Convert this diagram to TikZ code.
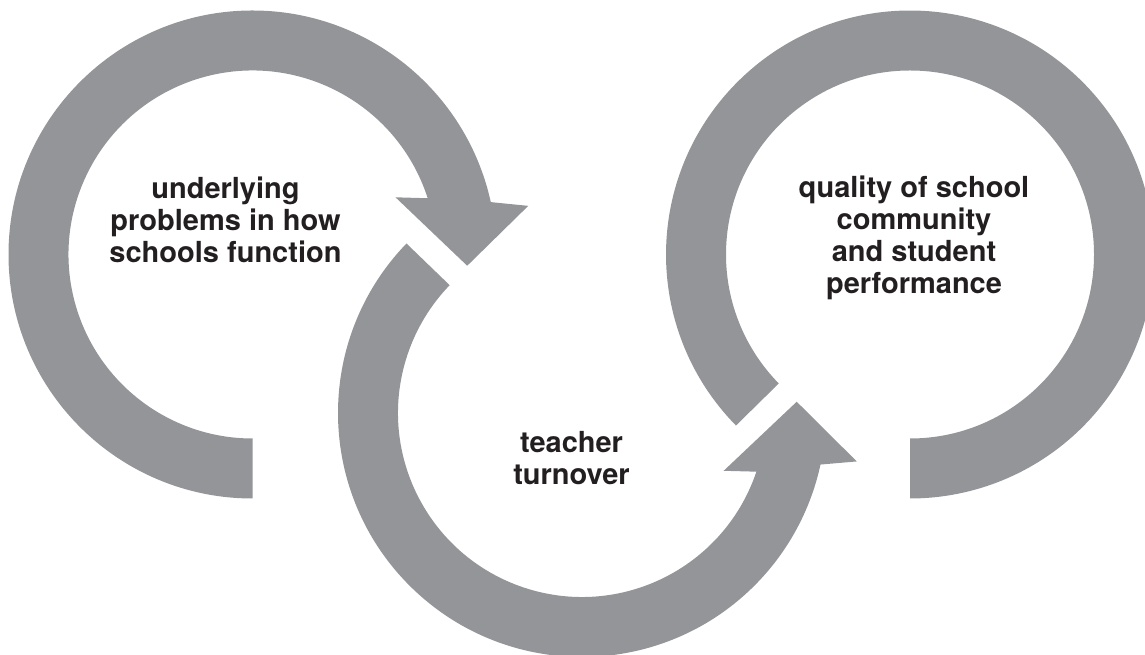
\documentclass[tikz,border=0pt]{standalone}
\usepackage{fontspec}
\setmainfont{TeX Gyre Heros}
\definecolor{loopgray}{RGB}{147,149,152}
\definecolor{inkblack}{RGB}{35,31,32}

\begin{document}
\begin{tikzpicture}[x=1pt, y=1pt,
  band/.style={fill=loopgray, draw=none},
  looptext/.style={align=center, text=inkblack, font=\bfseries\fontsize{29}{32}\selectfont}]
  \useasboundingbox (0,0) rectangle (1145,655);

  % centres of the three loops
  \coordinate (lc) at (252.5,400.5);
  \coordinate (mc) at (582,242);
  \coordinate (rc) at (910,400.5);

  % left loop, clockwise from the bottom, head pointing down
  \fill[band, shift={(lc)}]
    (270:244) arc[start angle=270, end angle=12.4, radius=244]
    -- (10:280) -- (-3:215) -- (21.8:154) -- (17.8:184)
    arc[start angle=17.8, end angle=270, radius=184] -- cycle;

  % middle loop, round the bottom, head pointing up
  \fill[band, shift={(mc)}]
    (136:244) arc[start angle=136, end angle=347.8, radius=244]
    -- (350:279) -- (363:215) -- (337.8:153) -- (341.4:184)
    arc[start angle=341.4, end angle=136, radius=184] -- cycle;

  % right loop, no head
  \fill[band, shift={(rc)}]
    (224.5:244) arc[start angle=224.5, end angle=-90, radius=244]
    -- (-90:184) arc[start angle=-90, end angle=224.5, radius=184] -- cycle;

  \node[looptext] (problems) at (225.5,435) {underlying\\problems in how\\schools function};
  \node[looptext] (turnover) at (571.5,197) {teacher\\turnover};
  \node[looptext] (quality) at (914,417.5) {quality of school\\community\\and student\\performance};
\end{tikzpicture}
\end{document}
